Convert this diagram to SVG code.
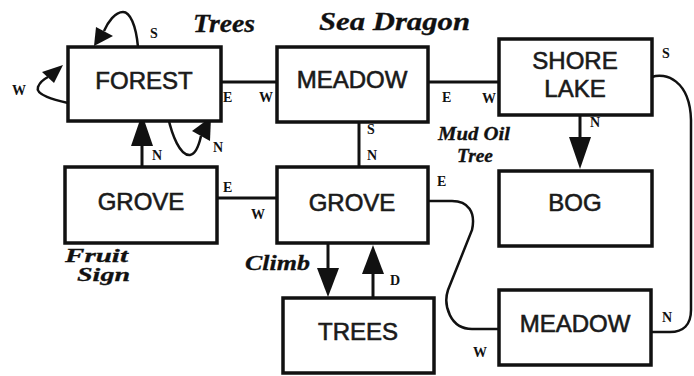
<svg xmlns="http://www.w3.org/2000/svg" width="694" height="376" viewBox="0 0 694 376">
<style>
.box{fill:#fff;stroke:#111;stroke-width:3.5}
.lbl{font-family:"Liberation Sans",Arial,sans-serif;font-size:24px;fill:#1a1a1a;stroke:#1a1a1a;stroke-width:0.6;text-anchor:middle}
.it{font-family:"Liberation Serif","Times New Roman",serif;font-style:italic;font-weight:bold;fill:#111;stroke:#111;stroke-width:0.3}
.dir{font-family:"Liberation Serif","Times New Roman",serif;font-weight:bold;font-size:14px;fill:#111}
.ln{fill:none;stroke:#111;stroke-width:3}
.cv{fill:none;stroke:#111;stroke-width:2.5}
.ah{fill:#111;stroke:none}
</style>
<rect width="694" height="376" fill="#fff"/>
<g id="connectors">
  <line class="ln" x1="221" y1="82" x2="277" y2="82"/>
  <line class="ln" x1="428" y1="82" x2="499" y2="82"/>
  <line class="ln" x1="359" y1="122" x2="359" y2="167"/>
  <line class="ln" x1="217" y1="198" x2="277" y2="198"/>
  <line class="ln" x1="142" y1="167" x2="142" y2="140"/>
  <polygon class="ah" points="142,114 131,146 153,146"/>
  <path class="cv" d="M168,117 C172,135 180,156 190,155 C196,154 199,145 201,136"/>
  <polygon class="ah" points="211,117 192,131 210,141"/>
  <path class="cv" d="M138,47 C136,25 130,12 123,12 C115,12 108,22 104,31"/>
  <polygon class="ah" points="94,46 96,27 113,36"/>
  <path class="cv" d="M68,103 C55,100 35,95 38,87 C40,82 44,79 48,77"/>
  <polygon class="ah" points="63,65 42,72 54,83"/>
  <line class="ln" x1="580" y1="115" x2="580" y2="140"/>
  <polygon class="ah" points="580,169 569,137 591,137"/>
  <line class="ln" x1="328" y1="243" x2="328" y2="270"/>
  <polygon class="ah" points="328,297 317,268 339,268"/>
  <line class="ln" x1="373" y1="298" x2="373" y2="272"/>
  <polygon class="ah" points="373,245 362,274 384,274"/>
  <path class="cv" d="M652,77 C665,72 690,80 691,120 L691,310 C691,325 683,332 670,332 L651,332"/>
  <path class="cv" d="M428,201 L452,201 C468,201 476,212 472,230 L448,290 C443,305 450,329 472,329 L499,329"/>
</g>
<g id="forest"><rect class="box" x="68" y="47" width="153" height="74"/><text class="lbl" x="144" y="89">FOREST</text></g>
<g id="meadow-top"><rect class="box" x="277" y="47" width="151" height="75"/><text class="lbl" x="352" y="88">MEADOW</text></g>
<g id="shore-lake"><rect class="box" x="499" y="39" width="153" height="76"/><text class="lbl" x="575" y="69">SHORE</text><text class="lbl" x="575" y="97">LAKE</text></g>
<g id="grove-left"><rect class="box" x="65" y="167" width="152" height="76"/><text class="lbl" x="141" y="210">GROVE</text></g>
<g id="grove-center"><rect class="box" x="277" y="167" width="151" height="76"/><text class="lbl" x="352" y="211">GROVE</text></g>
<g id="bog"><rect class="box" x="499" y="171" width="153" height="75"/><text class="lbl" x="575" y="211">BOG</text></g>
<g id="trees"><rect class="box" x="283" y="298" width="151" height="75"/><text class="lbl" x="358" y="340">TREES</text></g>
<g id="meadow-bottom"><rect class="box" x="499" y="290" width="152" height="75"/><text class="lbl" x="575" y="332">MEADOW</text></g>
<g id="labels">
  <text class="it" x="193" y="32" font-size="26" textLength="62" lengthAdjust="spacingAndGlyphs">Trees</text>
  <text class="it" x="319" y="30" font-size="26" textLength="151" lengthAdjust="spacingAndGlyphs">Sea Dragon</text>
  <text class="it" x="438" y="140" font-size="18" textLength="72" lengthAdjust="spacingAndGlyphs">Mud Oil</text>
  <text class="it" x="457" y="162" font-size="18" textLength="36" lengthAdjust="spacingAndGlyphs">Tree</text>
  <text class="it" x="65" y="262" font-size="19" textLength="63" lengthAdjust="spacingAndGlyphs">Fruit</text>
  <text class="it" x="77" y="281" font-size="19" textLength="53" lengthAdjust="spacingAndGlyphs">Sign</text>
  <text class="it" x="245" y="270" font-size="22" textLength="65" lengthAdjust="spacingAndGlyphs">Climb</text>
  <text class="dir" x="150" y="38">S</text>
  <text class="dir" x="12" y="95">W</text>
  <text class="dir" x="223" y="102">E</text>
  <text class="dir" x="259" y="102">W</text>
  <text class="dir" x="442" y="102">E</text>
  <text class="dir" x="482" y="103">W</text>
  <text class="dir" x="367" y="134">S</text>
  <text class="dir" x="367" y="160">N</text>
  <text class="dir" x="590" y="127">N</text>
  <text class="dir" x="662" y="58">S</text>
  <text class="dir" x="662" y="322">N</text>
  <text class="dir" x="473" y="357">W</text>
  <text class="dir" x="437" y="186">E</text>
  <text class="dir" x="223" y="192">E</text>
  <text class="dir" x="251" y="219">W</text>
  <text class="dir" x="390" y="285">D</text>
  <text class="dir" x="152" y="160">N</text>
  <text class="dir" x="213" y="152">N</text>
</g>
</svg>
